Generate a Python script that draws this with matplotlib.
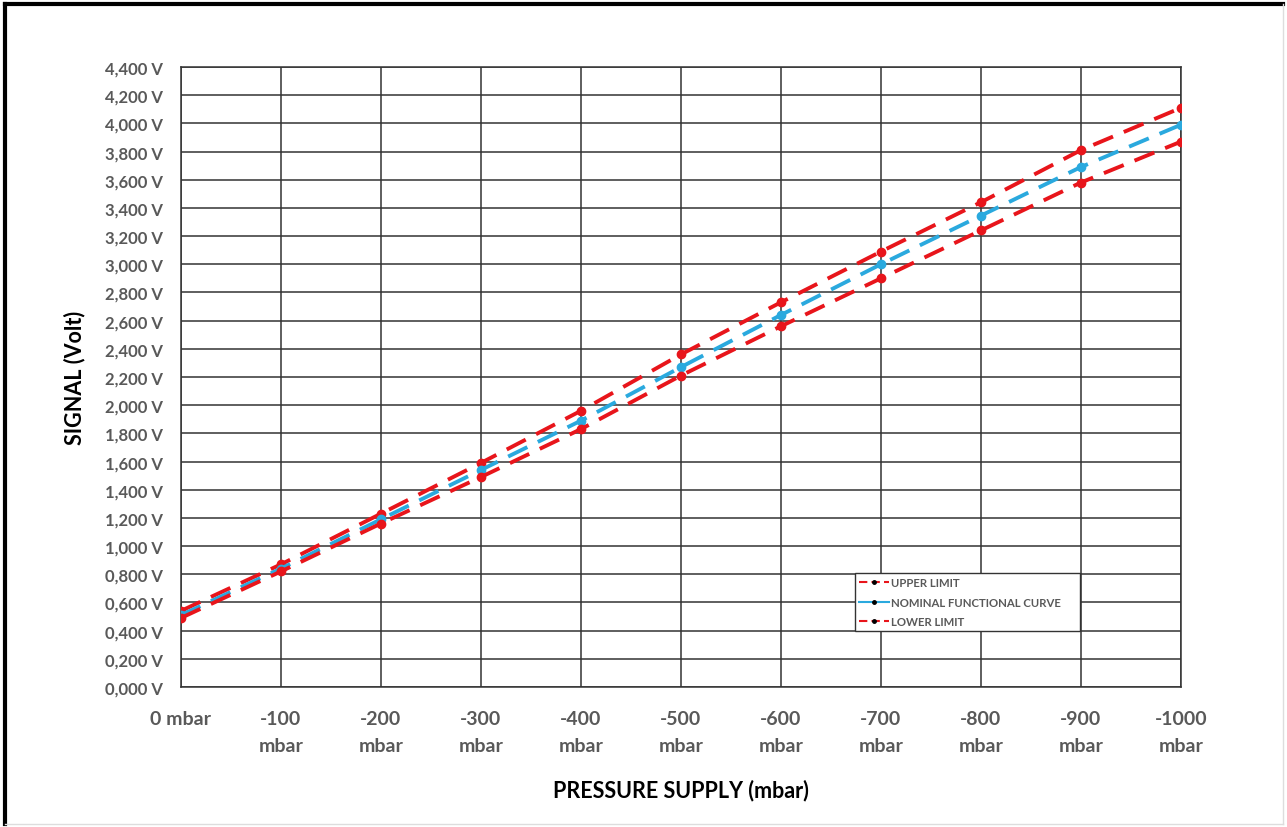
import matplotlib.pyplot as plt
from matplotlib.lines import Line2D
from matplotlib.ticker import FuncFormatter

# Pressure steps and signal values
pressure = [0, -100, -200, -300, -400, -500, -600, -700, -800, -900, -1000]
upper_limit = [0.54, 0.87, 1.23, 1.59, 1.96, 2.36, 2.73, 3.09, 3.44, 3.81, 4.11]
nominal = [0.51, 0.84, 1.19, 1.54, 1.89, 2.27, 2.64, 3.00, 3.345, 3.69, 3.99]
lower_limit = [0.49, 0.82, 1.16, 1.49, 1.83, 2.21, 2.56, 2.90, 3.24, 3.58, 3.87]
x_tick_labels = ['0 mbar', '-100\nmbar', '-200\nmbar', '-300\nmbar', '-400\nmbar',
                 '-500\nmbar', '-600\nmbar', '-700\nmbar', '-800\nmbar', '-900\nmbar',
                 '-1000\nmbar']

plt.rcParams['font.family'] = ['Lato', 'DejaVu Sans']

red = '#E8151B'
blue = '#2AA9DE'
tick_grey = '#595959'

fig = plt.figure(figsize=(12.87, 8.28), dpi=100)
ax = fig.add_axes([0.1406, 0.1691, 0.7770, 0.7488])

x = list(range(len(pressure)))
for vals, col in [(upper_limit, red), (nominal, blue), (lower_limit, red)]:
    ax.plot(x, vals, color=col, lw=2.8, dashes=(5.5, 3), marker='o', ms=6, zorder=3)

ax.set_xlim(0, len(pressure) - 1)
ax.set_ylim(0, 4.4)
ax.set_xticks(x)
ax.set_xticklabels(x_tick_labels, fontsize=14, fontweight='bold', color=tick_grey,
                   linespacing=1.7, va='top')
ax.set_yticks([i * 0.2 for i in range(23)])
ax.yaxis.set_major_formatter(FuncFormatter(lambda v, p: f'{v:,.3f} V'.replace('.', ',')))
for lab in ax.get_yticklabels():
    lab.set_fontsize(12)
    lab.set_fontweight('bold')
    lab.set_color(tick_grey)
ax.tick_params(axis='x', length=0, pad=16.5)
ax.tick_params(axis='y', length=0, pad=13)

ax.grid(True, color='#333333', lw=1.1)
ax.set_axisbelow(True)
for s in ax.spines.values():
    s.set_color('#333333')
    s.set_linewidth(1.1)

ax.set_xlabel('PRESSURE SUPPLY (mbar)', fontsize=15.5, fontweight='bold', labelpad=18)
ax.set_ylabel('SIGNAL (Volt)', fontsize=15.5, fontweight='bold', labelpad=14)

handles = [
    Line2D([], [], color=red, lw=1.5, dashes=(4, 2), marker='o', ms=2.5, mfc='k', mec='k'),
    Line2D([], [], color=blue, lw=1.5, marker='o', ms=2.5, mfc='k', mec='k'),
    Line2D([], [], color=red, lw=1.5, dashes=(4, 2), marker='o', ms=2.5, mfc='k', mec='k'),
]
leg = ax.legend(handles, ['UPPER LIMIT', 'NOMINAL FUNCTIONAL CURVE', 'LOWER LIMIT'],
                loc='lower left', bbox_to_anchor=(0.674, 0.09, 0.225, 0.111),
                mode='expand', fancybox=False, framealpha=1, edgecolor='#333333',
                handlelength=2.6, handletextpad=0.2, borderaxespad=0, borderpad=0.35,
                prop={'size': 8.2, 'weight': 'bold'}, labelspacing=0.75)
for t in leg.get_texts():
    t.set_color(tick_grey)
leg.get_frame().set_linewidth(1.0)

# frame around the whole picture
fig.add_artist(Line2D([0.004, 0.004], [0.004, 0.994], color='black', lw=3, transform=fig.transFigure))
fig.add_artist(Line2D([0.004, 0.997], [0.994, 0.994], color='black', lw=3, transform=fig.transFigure))
fig.add_artist(Line2D([0.997, 0.997], [0.004, 0.994], color='#dddddd', lw=1, transform=fig.transFigure))
fig.add_artist(Line2D([0.004, 0.997], [0.004, 0.004], color='#dddddd', lw=1, transform=fig.transFigure))

fig.savefig('out.png', dpi=100)
